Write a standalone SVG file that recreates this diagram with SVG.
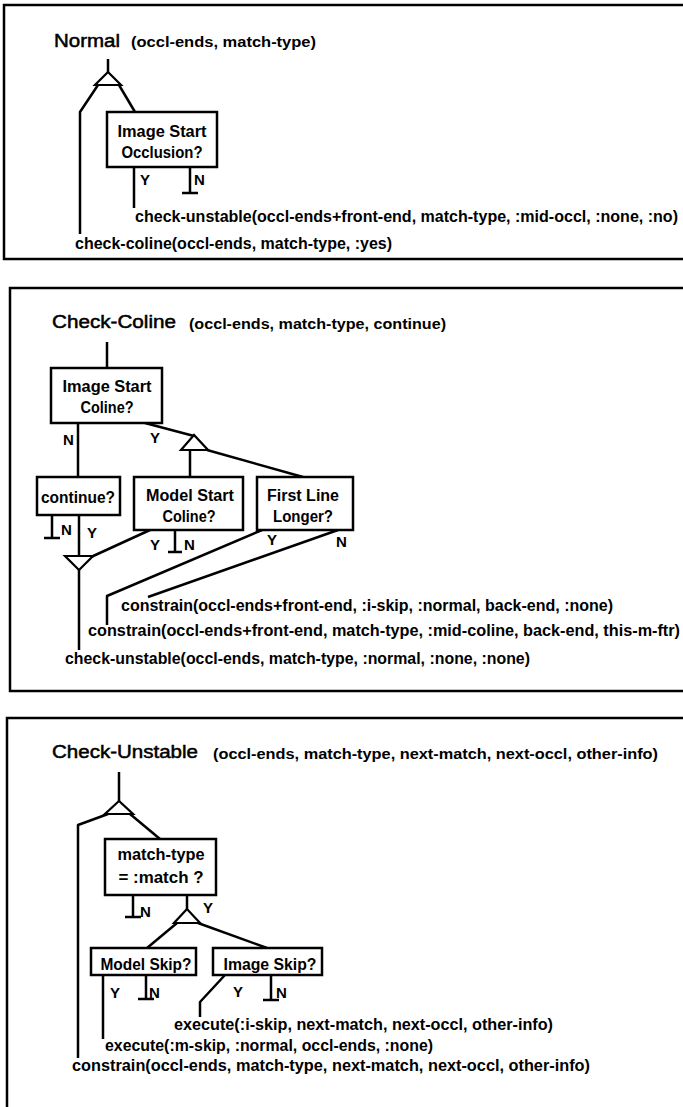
<svg xmlns="http://www.w3.org/2000/svg" width="683" height="1107" viewBox="0 0 683 1107">
<style>
.frame{fill:none;stroke:#000;stroke-width:2.5}
.box{fill:#fff;stroke:#000;stroke-width:2.5}
.ln{fill:none;stroke:#000;stroke-width:2.5;stroke-linejoin:round}
.tri{fill:#fff;stroke:#000;stroke-width:2.2;stroke-linejoin:miter}
text{font-family:"Liberation Sans",Arial,sans-serif;font-weight:bold;fill:#000}
.ttl{font-size:18px;font-weight:normal;stroke:#000;stroke-width:0.5}
.par{font-size:14px}
.call{font-size:16px}
.lbl{font-size:16px;text-anchor:middle}
.yn{font-size:15px}
</style>
<rect width="683" height="1107" fill="#fff"/>

<!-- Panel 1: Normal -->
<g id="panel-normal">
<rect class="frame" x="4" y="5" width="720" height="254"/>
<text class="ttl" x="54" y="47" textLength="66" lengthAdjust="spacingAndGlyphs">Normal</text>
<text class="par" x="131" y="47" textLength="185" lengthAdjust="spacingAndGlyphs">(occl-ends, match-type)</text>
</g>
<g id="connectors-normal">
<path class="ln" d="M108 59V73"/>
<path class="ln" d="M98 85L80 112V234"/>
<path class="ln" d="M119 85L135 112"/>
<path class="ln" d="M134 167V208"/>
<path class="ln" d="M190 167V193M182 193H198"/>
<polygon class="tri" points="108,72 95,85 121,85"/>
<text class="yn" x="140" y="185">Y</text>
<text class="yn" x="194" y="185">N</text>
</g>
<g id="n1-image-start-occlusion">
<rect class="box" x="107" y="112" width="110" height="55"/>
<text class="lbl" x="162" y="137" textLength="89" lengthAdjust="spacingAndGlyphs">Image Start</text>
<text class="lbl" x="162" y="158" textLength="81" lengthAdjust="spacingAndGlyphs">Occlusion?</text>
</g>
<g id="n1-check-unstable">
<text class="call" x="135" y="222" textLength="543" lengthAdjust="spacingAndGlyphs">check-unstable(occl-ends+front-end, match-type, :mid-occl, :none, :no)</text>
</g>
<g id="n1-check-coline">
<text class="call" x="75" y="249" textLength="317" lengthAdjust="spacingAndGlyphs">check-coline(occl-ends, match-type, :yes)</text>
</g>

<!-- Panel 2: Check-Coline -->
<g id="panel-check-coline">
<rect class="frame" x="10" y="288" width="720" height="403"/>
<text class="ttl" x="52" y="328" textLength="124" lengthAdjust="spacingAndGlyphs">Check-Coline</text>
<text class="par" x="189" y="329" textLength="257" lengthAdjust="spacingAndGlyphs">(occl-ends, match-type, continue)</text>
</g>
<g id="connectors-check-coline">
<path class="ln" d="M107 342V368"/>
<path class="ln" d="M78 423V477"/>
<path class="ln" d="M145 423L194 436"/>
<path class="ln" d="M190 450V477"/>
<path class="ln" d="M207 450L303 477"/>
<path class="ln" d="M52 515V538M44 538H60"/>
<path class="ln" d="M79 515V650"/>
<path class="ln" d="M150 530L91 557"/>
<path class="ln" d="M175 530V552M168 552H182"/>
<path class="ln" d="M262 530L107 596V625"/>
<path class="ln" d="M338 530L148 597"/>
<polygon class="tri" points="194,435 181,450 208,450"/>
<polygon class="tri" points="65,556 93,556 79,570"/>
<text class="yn" x="63" y="445">N</text>
<text class="yn" x="150" y="443">Y</text>
<text class="yn" x="61" y="535">N</text>
<text class="yn" x="87" y="538">Y</text>
<text class="yn" x="150" y="550">Y</text>
<text class="yn" x="184" y="550">N</text>
<text class="yn" x="267" y="545">Y</text>
<text class="yn" x="336" y="547">N</text>
</g>
<g id="n2-image-start-coline">
<rect class="box" x="51" y="368" width="111" height="55"/>
<text class="lbl" x="107" y="392" textLength="89" lengthAdjust="spacingAndGlyphs">Image Start</text>
<text class="lbl" x="107" y="413" textLength="53" lengthAdjust="spacingAndGlyphs">Coline?</text>
</g>
<g id="n2-continue">
<rect class="box" x="37" y="477" width="83" height="38"/>
<text class="lbl" x="78" y="503" textLength="74" lengthAdjust="spacingAndGlyphs">continue?</text>
</g>
<g id="n2-model-start-coline">
<rect class="box" x="134" y="477" width="109" height="53"/>
<text class="lbl" x="190" y="501" textLength="88" lengthAdjust="spacingAndGlyphs">Model Start</text>
<text class="lbl" x="189" y="522" textLength="53" lengthAdjust="spacingAndGlyphs">Coline?</text>
</g>
<g id="n2-first-line-longer">
<rect class="box" x="257" y="477" width="96" height="53"/>
<text class="lbl" x="303" y="501" textLength="72" lengthAdjust="spacingAndGlyphs">First Line</text>
<text class="lbl" x="303" y="522" textLength="60" lengthAdjust="spacingAndGlyphs">Longer?</text>
</g>
<g id="n2-constrain-iskip">
<text class="call" x="121" y="611" textLength="492" lengthAdjust="spacingAndGlyphs">constrain(occl-ends+front-end, :i-skip, :normal, back-end, :none)</text>
</g>
<g id="n2-constrain-midcoline">
<text class="call" x="88" y="636" textLength="592" lengthAdjust="spacingAndGlyphs">constrain(occl-ends+front-end, match-type, :mid-coline, back-end, this-m-ftr)</text>
</g>
<g id="n2-check-unstable">
<text class="call" x="65" y="664" textLength="465" lengthAdjust="spacingAndGlyphs">check-unstable(occl-ends, match-type, :normal, :none, :none)</text>
</g>

<!-- Panel 3: Check-Unstable -->
<g id="panel-check-unstable">
<rect class="frame" x="7" y="718" width="720" height="420"/>
<text class="ttl" x="52" y="758" textLength="146" lengthAdjust="spacingAndGlyphs">Check-Unstable</text>
<text class="par" x="213" y="759" textLength="445" lengthAdjust="spacingAndGlyphs">(occl-ends, match-type, next-match, next-occl, other-info)</text>
</g>
<g id="connectors-check-unstable">
<path class="ln" d="M119 772V802"/>
<path class="ln" d="M108 814L78 825V1058"/>
<path class="ln" d="M130 814L160 839"/>
<path class="ln" d="M133 895V917M125 917H141"/>
<path class="ln" d="M187 895V910"/>
<path class="ln" d="M177 923L147 948"/>
<path class="ln" d="M198 923L267 948"/>
<path class="ln" d="M103 975V1039"/>
<path class="ln" d="M146 975V999M138 999H154"/>
<path class="ln" d="M225 975L200 1002V1017"/>
<path class="ln" d="M271 975V1000M263 1000H279"/>
<polygon class="tri" points="119,801 105,814 133,814"/>
<polygon class="tri" points="187,909 174,923 200,923"/>
<text class="yn" x="140" y="917">N</text>
<text class="yn" x="203" y="913">Y</text>
<text class="yn" x="110" y="998">Y</text>
<text class="yn" x="149" y="998">N</text>
<text class="yn" x="233" y="997">Y</text>
<text class="yn" x="276" y="998">N</text>
</g>
<g id="n3-match-type">
<rect class="box" x="105" y="839" width="111" height="56"/>
<text class="lbl" x="161" y="860" textLength="87" lengthAdjust="spacingAndGlyphs">match-type</text>
<text class="lbl" x="161" y="883" textLength="85" lengthAdjust="spacingAndGlyphs">= :match ?</text>
</g>
<g id="n3-model-skip">
<rect class="box" x="91" y="948" width="105" height="27"/>
<text class="lbl" x="146" y="970" textLength="91" lengthAdjust="spacingAndGlyphs">Model Skip?</text>
</g>
<g id="n3-image-skip">
<rect class="box" x="213" y="948" width="109" height="27"/>
<text class="lbl" x="270" y="970" textLength="93" lengthAdjust="spacingAndGlyphs">Image Skip?</text>
</g>
<g id="n3-execute-iskip">
<text class="call" x="174" y="1030" textLength="379" lengthAdjust="spacingAndGlyphs">execute(:i-skip, next-match, next-occl, other-info)</text>
</g>
<g id="n3-execute-mskip">
<text class="call" x="105" y="1051" textLength="328" lengthAdjust="spacingAndGlyphs">execute(:m-skip, :normal, occl-ends, :none)</text>
</g>
<g id="n3-constrain">
<text class="call" x="72" y="1071" textLength="518" lengthAdjust="spacingAndGlyphs">constrain(occl-ends, match-type, next-match, next-occl, other-info)</text>
</g>
</svg>
